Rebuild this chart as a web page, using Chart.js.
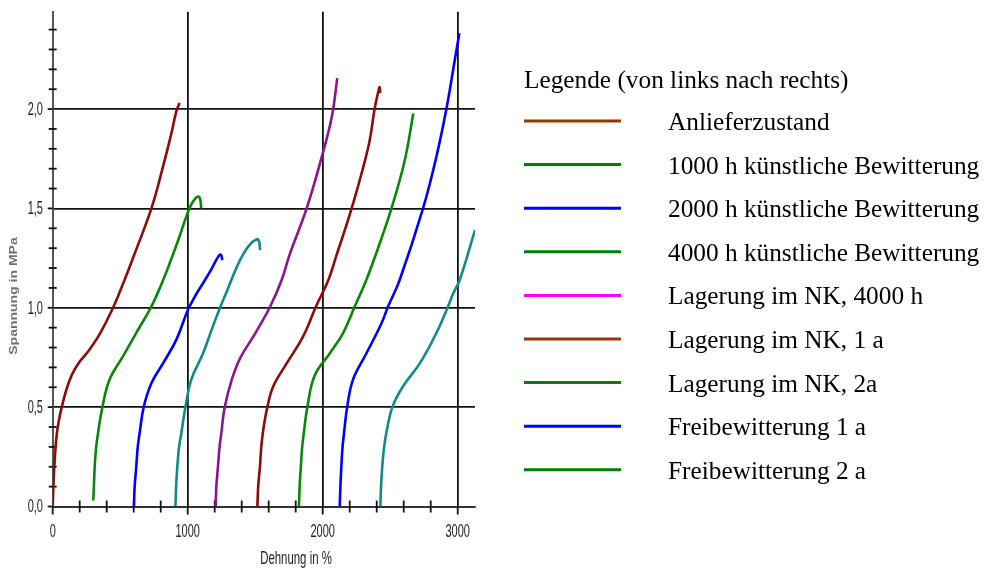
<!DOCTYPE html>
<html>
<head>
<meta charset="utf-8">
<title>Spannung-Dehnung</title>
<script src="https://cdn.jsdelivr.net/npm/chart.js@4/dist/chart.umd.min.js"></script>
<style>
  html, body { margin: 0; padding: 0; background: #fff; }
  #wrap { position: relative; width: 984px; height: 572px; }
</style>
</head>
<body>
<div id="wrap"><canvas id="c" width="984" height="572"></canvas></div>
<script>
// Stress-strain curves: [Dehnung in %, Spannung in MPa]
const anlieferzustand = [[0,0],[5,0.1],[12,0.2],[28,0.35],[45,0.43],[67,0.5],[100,0.585],[140,0.66],[190,0.72],[262,0.78],[350,0.87],[447,1.0],[532,1.14],[600,1.26],[731,1.5],[817,1.71],[880,1.88],[916,1.99],[940,2.03]];
const bew1000h = [[300,0.03],[305,0.1],[311,0.2],[322,0.3],[336,0.37],[368,0.5],[422,0.64],[520,0.755],[620,0.875],[726,1.0],[800,1.11],[870,1.23],[940,1.36],[990,1.46],[1027,1.52],[1060,1.553],[1080,1.56],[1093,1.545],[1100,1.5]];
const bew2000h = [[602,0],[607,0.1],[619,0.2],[630,0.3],[644,0.37],[674,0.5],[731,0.62],[817,0.72],[916,0.84],[1002,0.99],[1060,1.065],[1128,1.14],[1180,1.2],[1224,1.255],[1245,1.268],[1257,1.24]];
const bew4000h = [[909,0],[914,0.1],[923,0.2],[936,0.3],[953,0.37],[983,0.5],[1027,0.64],[1113,0.77],[1175,0.885],[1239,1.0],[1300,1.1],[1360,1.2],[1420,1.28],[1470,1.325],[1500,1.34],[1518,1.345],[1530,1.33],[1536,1.29]];
const nk4000h = [[1207,0],[1212,0.1],[1224,0.2],[1236,0.3],[1249,0.37],[1274,0.5],[1326,0.637],[1388,0.746],[1499,0.87],[1610,1.005],[1696,1.14],[1758,1.274],[1881,1.5],[1993,1.76],[2067,1.96],[2108,2.155]];
const nk1a = [[1516,0],[1522,0.1],[1535,0.2],[1545,0.3],[1560,0.387],[1590,0.5],[1634,0.605],[1733,0.72],[1855,0.856],[1950,1.006],[2042,1.14],[2100,1.26],[2214,1.5],[2338,1.81],[2387,2.01],[2416,2.1],[2421,2.11],[2426,2.08]];
const nk2a = [[1824,0],[1829,0.1],[1838,0.2],[1848,0.3],[1860,0.37],[1886,0.5],[1941,0.66],[2052,0.77],[2151,0.873],[2237,1.006],[2323,1.14],[2410,1.3],[2509,1.5],[2607,1.74],[2671,1.978]];
const frei1a = [[2126,0],[2131,0.1],[2138,0.2],[2147,0.3],[2158,0.37],[2181,0.5],[2225,0.64],[2323,0.77],[2434,0.92],[2484,1.006],[2570,1.14],[2743,1.5],[2842,1.76],[2916,2.0],[2978,2.246],[3012,2.382]];
const frei2a = [[2427,0],[2432,0.1],[2441,0.2],[2455,0.3],[2471,0.37],[2516,0.5],[2595,0.605],[2719,0.72],[2842,0.873],[2928,1.006],[2967,1.073],[3015,1.14],[3128,1.391]];

const seriesData = [anlieferzustand, bew1000h, bew2000h, bew4000h, nk4000h, nk1a, nk2a, frei1a, frei2a];
const curveColors = ['#8e0b0b', '#0a870a', '#0000ff', '#138a8a', '#8a168a', '#8e0b0b', '#0a870a', '#0000ff', '#138a8a'];

const legendTitle = 'Legende (von links nach rechts)';
const legendLabels = ['Anlieferzustand', '1000 h künstliche Bewitterung', '2000 h künstliche Bewitterung', '4000 h künstliche Bewitterung', 'Lagerung im NK, 4000 h', 'Lagerung im NK, 1 a', 'Lagerung im NK, 2a', 'Freibewitterung 1 a', 'Freibewitterung 2 a'];
const legendColors = ['#993300', '#008000', '#0000ff', '#008000', '#ff00ff', '#993300', '#008000', '#0000ff', '#008000'];

const xTitle = 'Dehnung in %';
const yTitle = 'Spannung in MPa';
const xMajor = [0, 1000, 2000, 3000];
const yMajor = [0, 0.5, 1.0, 1.5, 2.0];

const isMajorY = v => Math.abs(v * 2 - Math.round(v * 2)) < 1e-6;
const isMajorX = v => Math.abs(v / 1000 - Math.round(v / 1000)) < 1e-6;

function squeezed(ctx, text, x, y, sx, align) {
  ctx.save();
  ctx.translate(x, y);
  ctx.scale(sx, 1);
  ctx.textAlign = align;
  ctx.fillText(text, 0, 0);
  ctx.restore();
}

const axisDecor = {
  id: 'axisDecor',
  beforeDatasetsDraw(chart) {
    const ctx = chart.ctx;
    const xs = chart.scales.x, ys = chart.scales.y;
    const area = chart.chartArea;
    ctx.save();
    ctx.strokeStyle = '#111';
    ctx.lineWidth = 1.8;
    // tick marks crossing the left axis
    ys.ticks.forEach(t => {
      const py = ys.getPixelForValue(t.value);
      ctx.beginPath();
      if (isMajorY(t.value)) { ctx.moveTo(area.left - 5, py); ctx.lineTo(area.left, py); }
      else { ctx.moveTo(area.left - 4, py); ctx.lineTo(area.left + 4, py); }
      ctx.stroke();
    });
    // tick marks crossing the bottom axis
    xs.ticks.forEach(t => {
      const px = xs.getPixelForValue(t.value);
      ctx.beginPath();
      if (isMajorX(t.value)) { ctx.moveTo(px, area.bottom); ctx.lineTo(px, area.bottom + 8); }
      else { ctx.moveTo(px, area.bottom - 6); ctx.lineTo(px, area.bottom + 6); }
      ctx.stroke();
    });
    ctx.restore();
  },
  afterDraw(chart) {
    const ctx = chart.ctx;
    const xs = chart.scales.x, ys = chart.scales.y;
    ctx.save();
    ctx.fillStyle = '#222';
    ctx.font = '19px "Liberation Sans", Arial, sans-serif';
    ctx.textBaseline = 'middle';
    yMajor.forEach(v => {
      squeezed(ctx, v.toFixed(1).replace('.', ','), 43, ys.getPixelForValue(v) + 0.5, 0.58, 'right');
    });
    xMajor.forEach(v => {
      squeezed(ctx, String(v), xs.getPixelForValue(v), 532, 0.58, 'center');
    });
    squeezed(ctx, xTitle, 296, 559, 0.6, 'center');

    // rotated left title
    ctx.save();
    ctx.translate(14, 296);
    ctx.rotate(-Math.PI / 2);
    ctx.scale(1, 0.78);
    ctx.fillStyle = '#707070';
    ctx.font = 'bold 14px "Liberation Sans", Arial, sans-serif';
    ctx.textAlign = 'center';
    ctx.textBaseline = 'middle';
    ctx.fillText(yTitle, 0, 0);
    ctx.restore();

    // legend block
    ctx.fillStyle = '#000';
    ctx.font = '25.3px "Liberation Serif", "Times New Roman", serif';
    ctx.textAlign = 'left';
    ctx.textBaseline = 'alphabetic';
    ctx.fillText(legendTitle, 524, 87.5);
    const rowY0 = 121, rowStep = 43.6;
    legendLabels.forEach((label, i) => {
      const y = rowY0 + i * rowStep;
      ctx.strokeStyle = legendColors[i];
      ctx.lineWidth = 3;
      ctx.beginPath();
      ctx.moveTo(524, y);
      ctx.lineTo(621, y);
      ctx.stroke();
      ctx.fillStyle = '#000';
      ctx.fillText(label, 668, y + 9);
    });
    ctx.restore();
  }
};

new Chart(document.getElementById('c'), {
  type: 'line',
  data: {
    datasets: seriesData.map((pts, i) => ({
      label: legendLabels[i],
      data: pts.map(p => ({ x: p[0], y: p[1] })),
      borderColor: curveColors[i],
      borderWidth: 2.6,
      pointRadius: 0,
      fill: false,
      tension: 0.4
    }))
  },
  options: {
    responsive: false,
    animation: false,
    events: [],
    layout: { padding: { left: 52.7, top: 11.7, right: 509, bottom: 65.5 } },
    plugins: { legend: { display: false }, tooltip: { enabled: false } },
    scales: {
      x: {
        type: 'linear',
        min: 0,
        max: 3128,
        ticks: { display: false, stepSize: 200, includeBounds: false },
        grid: {
          drawTicks: false,
          lineWidth: 1.8,
          color: c => (c.tick && isMajorX(c.tick.value) && c.tick.value > 0) ? '#111' : 'rgba(0,0,0,0)'
        },
        border: { display: true, color: '#333', width: 2 }
      },
      y: {
        type: 'linear',
        min: 0,
        max: 2.49,
        ticks: { display: false, stepSize: 0.1, includeBounds: false },
        grid: {
          drawTicks: false,
          lineWidth: 1.8,
          color: c => (c.tick && isMajorY(c.tick.value) && c.tick.value > 0) ? '#111' : 'rgba(0,0,0,0)'
        },
        border: { display: true, color: '#555', width: 2 }
      }
    }
  },
  plugins: [axisDecor]
});
</script>
</body>
</html>
